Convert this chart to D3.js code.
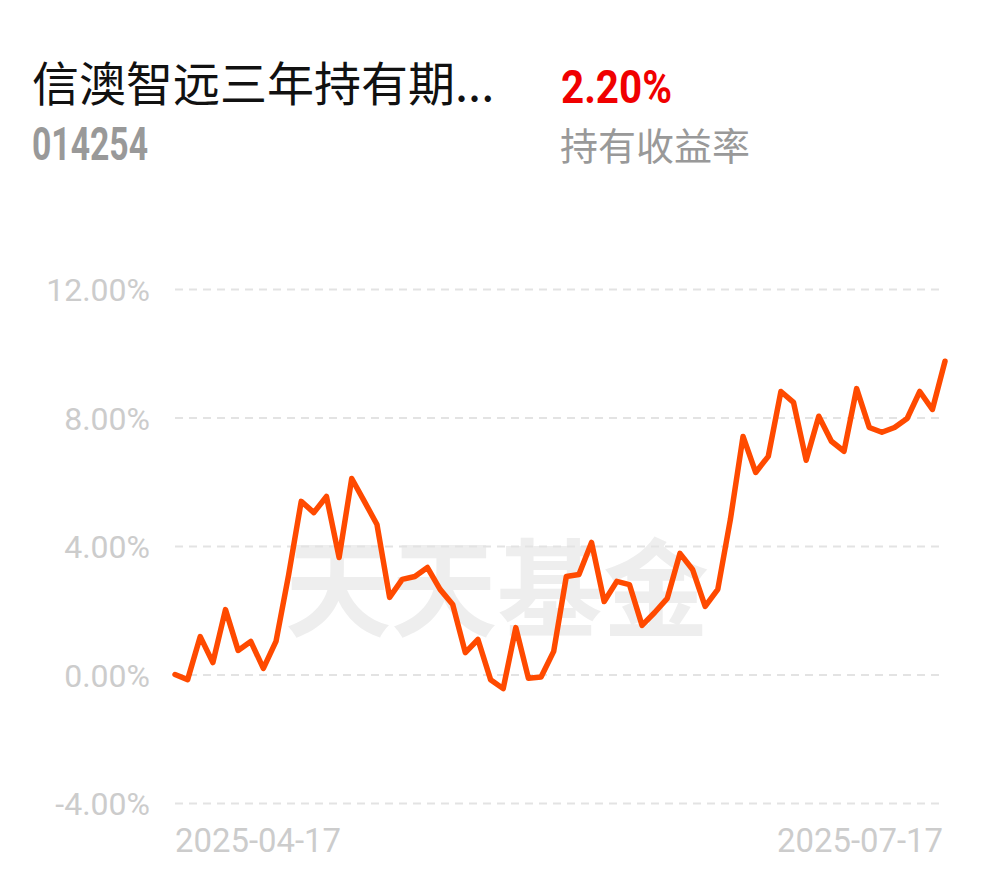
<!DOCTYPE html>
<html>
<head>
<meta charset="utf-8">
<script src="https://cdn.jsdelivr.net/npm/d3@7"></script>
<style>
  html, body { margin: 0; padding: 0; background: #ffffff; }
  svg { display: block; }
</style>
</head>
<body>
<svg id="chart" width="990" height="878"></svg>
<script>
// ---- data ----
const fundName = "信澳智远三年持有期...";
const fundCode = "014254";
const holdReturn = "2.20%";
const holdReturnLabel = "持有收益率";
const watermark = "天天基金";
const xLabels = ["2025-04-17", "2025-07-17"];
const yTicks = [-4, 0, 4, 8, 12];
const returns = [
  0.00, -0.16, 1.18, 0.37, 2.02, 0.75, 1.03, 0.19, 1.03, 3.10,
  5.39, 5.04, 5.54, 3.64, 6.10, 5.39, 4.67, 2.40, 2.96, 3.05,
  3.33, 2.65, 2.18, 0.68, 1.09, -0.16, -0.44, 1.46, -0.12, -0.08,
  0.72, 3.05, 3.11, 4.11, 2.27, 2.90, 2.80, 1.53, 1.93, 2.37,
  3.77, 3.27, 2.12, 2.65, 4.83, 7.41, 6.29, 6.79, 8.81, 8.47,
  6.67, 8.04, 7.26, 6.95, 8.90, 7.69, 7.54, 7.69, 7.97, 8.81,
  8.25, 9.75
];

// ---- drawing ----
const svg = d3.select("#chart");
const plotLeft = 175, plotRight = 945, plotTop = 289, plotBottom = 803;

const x = d3.scaleLinear().domain([0, returns.length - 1]).range([plotLeft, plotRight]);
const y = d3.scaleLinear().domain([-4, 12]).range([plotBottom, plotTop]);

// header
svg.append("text").attr("x", 32).attr("y", 101)
  .attr("font-family", "'Noto Sans CJK SC', sans-serif").attr("font-size", 47)
  .attr("fill", "#111").text(fundName);
svg.append("text").attr("x", 32).attr("y", 160)
  .attr("font-family", "Roboto, sans-serif").attr("font-weight", 700).attr("font-size", 46)
  .attr("textLength", 116).attr("lengthAdjust", "spacingAndGlyphs")
  .attr("fill", "#999").text(fundCode);
svg.append("text").attr("x", 561).attr("y", 103)
  .attr("font-family", "Roboto, sans-serif").attr("font-weight", 700).attr("font-size", 46)
  .attr("textLength", 111).attr("lengthAdjust", "spacingAndGlyphs")
  .attr("fill", "#f00000").text(holdReturn);
svg.append("text").attr("x", 560).attr("y", 160)
  .attr("font-family", "'Noto Sans CJK SC', sans-serif").attr("font-size", 38)
  .attr("fill", "#999").text(holdReturnLabel);

// watermark
svg.append("text").attr("x", 497).attr("y", 628)
  .attr("text-anchor", "middle")
  .attr("font-family", "'Noto Sans CJK SC', sans-serif").attr("font-weight", 700)
  .attr("font-size", 106).attr("fill", "#eeeeee")
  .text(watermark);

// y axis grid + labels
const yAxis = d3.axisLeft(y).tickValues(yTicks)
  .tickSize(-(plotRight - plotLeft))
  .tickPadding(25)
  .tickFormat(d => d.toFixed(2) + "%");
const gy = svg.append("g").attr("transform", `translate(${plotLeft},0)`).call(yAxis);
gy.select(".domain").remove();
gy.selectAll(".tick line").attr("stroke", "#e3e3e3").attr("stroke-width", 2)
  .attr("stroke-dasharray", "8,6");
gy.selectAll(".tick text").attr("fill", "#cccccc")
  .attr("font-family", "Roboto, sans-serif").attr("font-size", 32)
  .attr("dy", "0.36em");

// x labels
const gx = svg.append("g");
gx.selectAll("text").data(xLabels).enter().append("text")
  .attr("x", (d, i) => i === 0 ? x(0) : x(returns.length - 1) - 2)
  .attr("y", 852)
  .attr("text-anchor", (d, i) => i === 0 ? "start" : "end")
  .attr("font-family", "Roboto, sans-serif").attr("font-size", 33)
  .attr("textLength", 166).attr("lengthAdjust", "spacingAndGlyphs")
  .attr("fill", "#cccccc").text(d => d);

// line
const line = d3.line().x((d, i) => x(i)).y(d => y(d));
svg.append("path").datum(returns)
  .attr("d", line)
  .attr("fill", "none")
  .attr("stroke", "#ff4a00")
  .attr("stroke-width", 5.5)
  .attr("stroke-linejoin", "round")
  .attr("stroke-linecap", "round");
</script>
</body>
</html>
